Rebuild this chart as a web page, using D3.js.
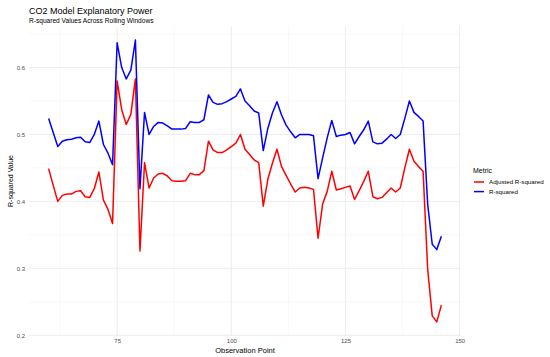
<!DOCTYPE html>
<html>
<head>
<meta charset="utf-8">
<script src="https://cdn.jsdelivr.net/npm/d3@7"></script>
<style>
  body { margin: 0; background: #fff; }
  text { font-family: 'Liberation Sans', Arial, sans-serif; }
</style>
</head>
<body>
<div id="chart"></div>
<script>
// observation points 60..146
const obs = d3.range(60, 147)

const rSquared = [
  0.524, 0.503, 0.482, 0.490, 0.492, 0.493, 0.495, 0.496, 0.489, 0.488,
  0.500, 0.520, 0.485, 0.472, 0.455, 0.637, 0.600, 0.583, 0.596, 0.641,
  0.419, 0.533, 0.500, 0.512, 0.518, 0.517, 0.513, 0.508, 0.508, 0.508,
  0.509, 0.519, 0.518, 0.518, 0.522, 0.559, 0.548, 0.545, 0.546, 0.549,
  0.553, 0.557, 0.568, 0.550, 0.543, 0.535, 0.532, 0.476, 0.509, 0.532,
  0.549, 0.529, 0.514, 0.504, 0.495, 0.500, 0.500, 0.500, 0.498, 0.434,
  0.465, 0.495, 0.521, 0.497, 0.499, 0.500, 0.503, 0.486, 0.497, 0.507,
  0.520, 0.489, 0.486, 0.487, 0.493, 0.500, 0.494, 0.500, 0.524, 0.550,
  0.533, 0.527, 0.520, 0.396, 0.336, 0.328, 0.348
]

const adjRSquared = [
  0.449, 0.424, 0.400, 0.409, 0.411, 0.411, 0.415, 0.416, 0.407, 0.406,
  0.419, 0.444, 0.402, 0.388, 0.367, 0.580, 0.537, 0.515, 0.530, 0.583,
  0.326, 0.458, 0.420, 0.435, 0.441, 0.442, 0.438, 0.431, 0.430, 0.430,
  0.431, 0.442, 0.440, 0.440, 0.446, 0.490, 0.477, 0.473, 0.473, 0.477,
  0.482, 0.487, 0.500, 0.478, 0.470, 0.462, 0.458, 0.393, 0.433, 0.457,
  0.478, 0.452, 0.439, 0.426, 0.414, 0.420, 0.421, 0.420, 0.418, 0.345,
  0.396, 0.415, 0.445, 0.417, 0.419, 0.421, 0.423, 0.403, 0.416, 0.430,
  0.445, 0.407, 0.404, 0.406, 0.413, 0.420, 0.414, 0.420, 0.450, 0.478,
  0.460, 0.452, 0.445, 0.299, 0.229, 0.220, 0.245
]

const seriesNames = ['Adjusted R-squared', 'R-squared']
const seriesColors = ['#ff0000', '#0000ff']
const xTicks = [75, 100, 125, 150]
const yTicks = [0.2, 0.3, 0.4, 0.5, 0.6]

const width = 550
const height = 357
const margin = { top: 26, left: 29, right: 89, bottom: 21 }
const innerW = width - margin.left - margin.right
const innerH = height - margin.top - margin.bottom

const svg = d3
  .select('#chart')
  .append('svg')
  .attr('width', width)
  .attr('height', height)

// ggplot-like 5% expansion
const expand = ([a, b]) => [a - (b - a) * 0.05, b + (b - a) * 0.05]

const xScale = d3
  .scaleLinear()
  .domain(expand(d3.extent(obs)))
  .range([margin.left, margin.left + innerW])

const allVals = rSquared.concat(adjRSquared)
const yScale = d3
  .scaleLinear()
  .domain(expand(d3.extent(allVals)))
  .range([margin.top + innerH, margin.top])

// grid: minor then major
const xMinor = [62.5, 87.5, 112.5, 137.5]
const yMinor = [0.25, 0.35, 0.45, 0.55, 0.65]

const grid = svg.append('g')
grid
  .selectAll('.xminor')
  .data(xMinor)
  .enter()
  .append('line')
  .attr('x1', d => xScale(d))
  .attr('x2', d => xScale(d))
  .attr('y1', margin.top)
  .attr('y2', margin.top + innerH)
  .attr('stroke', '#f3f3f3')
  .attr('stroke-width', 0.6)

grid
  .selectAll('.yminor')
  .data(yMinor)
  .enter()
  .append('line')
  .attr('x1', margin.left)
  .attr('x2', margin.left + innerW)
  .attr('y1', d => yScale(d))
  .attr('y2', d => yScale(d))
  .attr('stroke', '#f3f3f3')
  .attr('stroke-width', 0.6)

grid
  .selectAll('.xmajor')
  .data(xTicks)
  .enter()
  .append('line')
  .attr('x1', d => xScale(d))
  .attr('x2', d => xScale(d))
  .attr('y1', margin.top)
  .attr('y2', margin.top + innerH)
  .attr('stroke', '#ebebeb')
  .attr('stroke-width', 0.9)

grid
  .selectAll('.ymajor')
  .data(yTicks)
  .enter()
  .append('line')
  .attr('x1', margin.left)
  .attr('x2', margin.left + innerW)
  .attr('y1', d => yScale(d))
  .attr('y2', d => yScale(d))
  .attr('stroke', '#ebebeb')
  .attr('stroke-width', 0.9)

// axes (no domain lines, no tick marks)
const xAxis = svg
  .append('g')
  .attr('transform', 'translate(0,' + (margin.top + innerH) + ')')
  .call(d3.axisBottom(xScale).tickValues(xTicks).tickSize(0).tickPadding(3))
xAxis.select('.domain').remove()
xAxis
  .selectAll('text')
  .attr('font-size', 6)
  .attr('fill', '#4d4d4d')
  .style('font-family', "'Liberation Sans', Arial, sans-serif")

const yAxis = svg
  .append('g')
  .attr('transform', 'translate(' + margin.left + ',0)')
  .call(d3.axisLeft(yScale).tickValues(yTicks).tickFormat(d3.format('.1f')).tickSize(0).tickPadding(4))
yAxis.select('.domain').remove()
yAxis
  .selectAll('text')
  .attr('font-size', 6)
  .attr('fill', '#4d4d4d')
  .style('font-family', "'Liberation Sans', Arial, sans-serif")

// lines
const series = [adjRSquared, rSquared]
const line = d3
  .line()
  .x((d, i) => xScale(obs[i]))
  .y(d => yScale(d))

svg
  .selectAll('.series')
  .data(series)
  .enter()
  .append('path')
  .attr('class', 'series')
  .attr('d', d => line(d))
  .attr('fill', 'none')
  .attr('stroke', (d, i) => seriesColors[i])
  .attr('stroke-width', 1.5)
  .attr('stroke-linejoin', 'round')

// titles
svg
  .append('text')
  .attr('x', margin.left)
  .attr('y', 14)
  .attr('font-size', 9)
  .attr('fill', '#000')
  .text('CO2 Model Explanatory Power')

svg
  .append('text')
  .attr('x', margin.left)
  .attr('y', 23)
  .attr('font-size', 6.6)
  .attr('fill', '#000')
  .text('R-squared Values Across Rolling Windows')

svg
  .append('text')
  .attr('x', margin.left + innerW / 2)
  .attr('y', 353)
  .attr('text-anchor', 'middle')
  .attr('font-size', 7.5)
  .attr('fill', '#000')
  .text('Observation Point')

svg
  .append('text')
  .attr('transform', 'translate(13,' + (margin.top + innerH / 2) + ') rotate(-90)')
  .attr('text-anchor', 'middle')
  .attr('font-size', 7)
  .attr('fill', '#000')
  .text('R-squared Value')

// legend
const legend = svg.append('g').attr('transform', 'translate(473,0)')
legend
  .append('text')
  .attr('x', 0)
  .attr('y', 173)
  .attr('font-size', 7)
  .attr('fill', '#000')
  .text('Metric')

const keys = legend
  .selectAll('.key')
  .data(seriesNames)
  .enter()
  .append('g')
  .attr('class', 'key')
  .attr('transform', (d, i) => 'translate(0,' + (182 + i * 9.6) + ')')

keys
  .append('line')
  .attr('x1', 1)
  .attr('x2', 11)
  .attr('stroke', (d, i) => seriesColors[i])
  .attr('stroke-width', 1.5)

keys
  .append('text')
  .attr('x', 16)
  .attr('y', 2.2)
  .attr('font-size', 6.2)
  .attr('fill', '#000')
  .text(d => d)
</script>
</body>
</html>
